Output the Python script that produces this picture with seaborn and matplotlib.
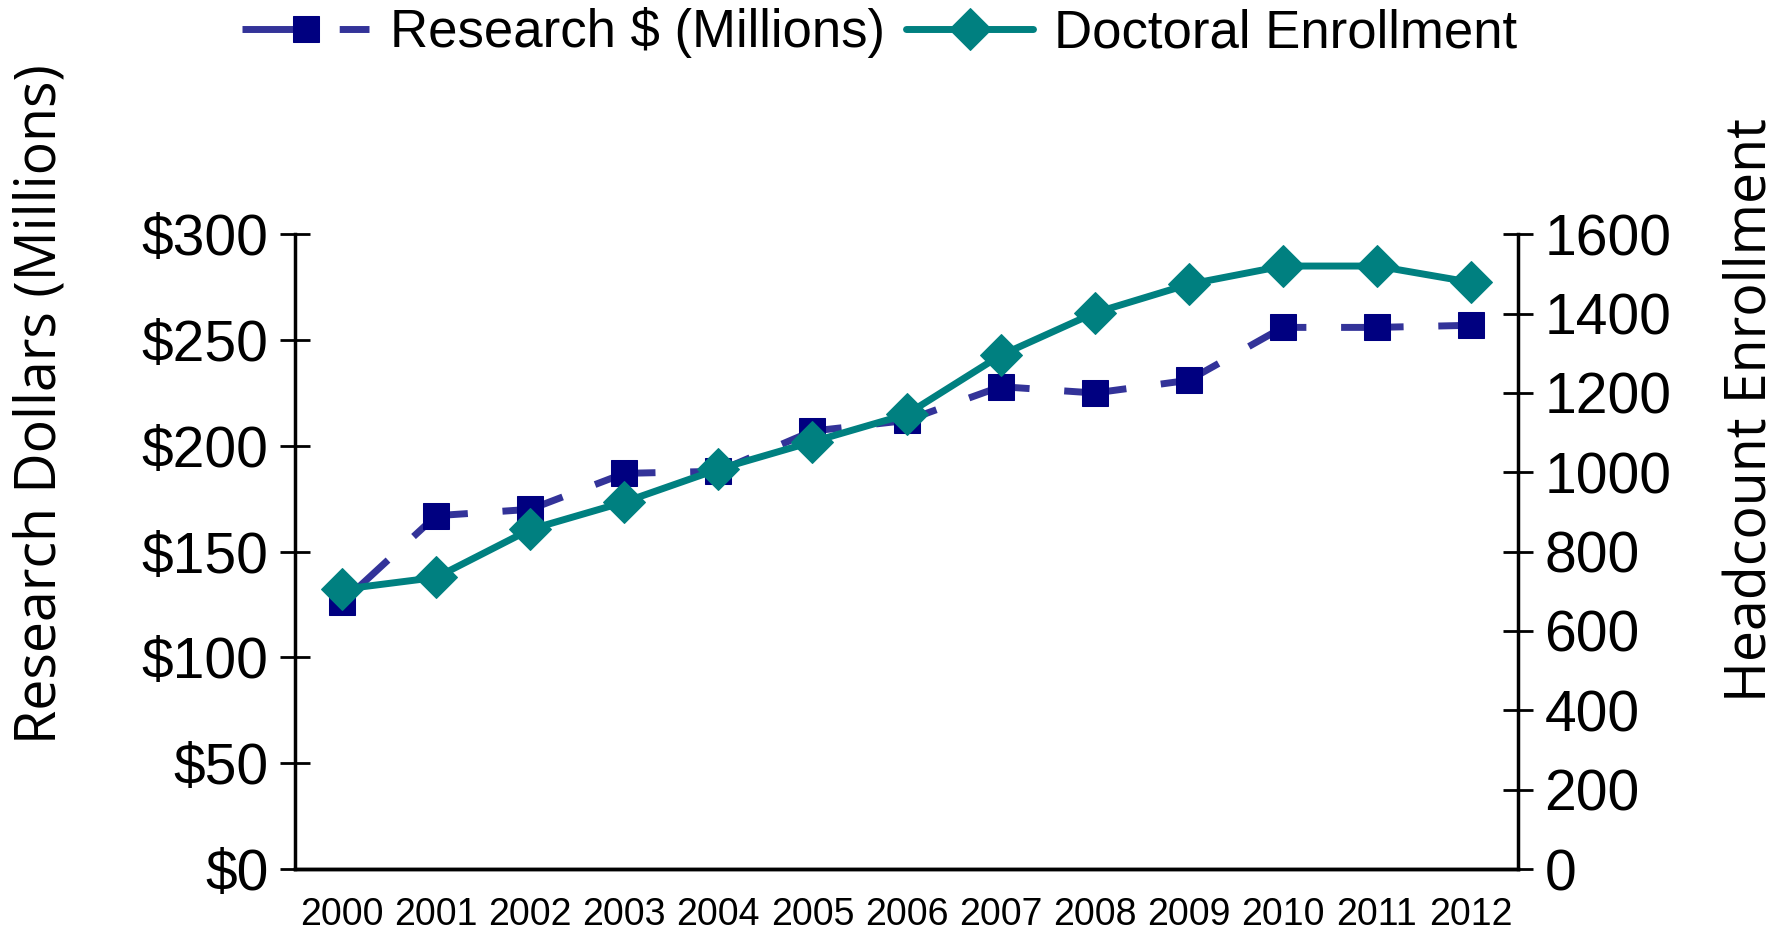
import numpy as np
import pandas as pd
import matplotlib
matplotlib.use("Agg")
import matplotlib.pyplot as plt
import seaborn as sns

years = ["2000", "2001", "2002", "2003", "2004", "2005", "2006",
         "2007", "2008", "2009", "2010", "2011", "2012"]
research = [126, 167, 170, 187, 188, 207, 212, 228, 225, 231, 256, 256, 257]
enrollment = [705, 735, 856, 925, 1008, 1077, 1146, 1295, 1402, 1474, 1520, 1520, 1479]

dollar_ticks = [0, 50, 100, 150, 200, 250, 300]
head_ticks = [0, 200, 400, 600, 800, 1000, 1200, 1400, 1600]

sns.set_theme(style="white")
plt.rcParams['font.family'] = ['Liberation Sans', 'DejaVu Sans']
plt.rcParams['text.color'] = 'black'
plt.rcParams['xtick.color'] = 'black'
plt.rcParams['ytick.color'] = 'black'
plt.rcParams['axes.labelcolor'] = 'black'

df = pd.DataFrame({"pos": np.arange(len(years)), "Year": years,
                   "Research": research, "Enrollment": enrollment})

fig = plt.figure(figsize=(17.88, 9.41), dpi=100)
ax = fig.add_axes([0.165, 0.0765, 0.684, 0.6745])
ax2 = ax.twinx()

sns.lineplot(data=df, x="pos", y="Research", ax=ax, color="#333399", lw=5,
             dashes=False, marker="s", markersize=19, markerfacecolor="#000080",
             markeredgecolor="#000080", label="Research $ (Millions)", legend=False)
ax.lines[0].set_dashes([9, 5])
sns.lineplot(data=df, x="pos", y="Enrollment", ax=ax2, color="#008080", lw=5,
             marker="D", markersize=21, markerfacecolor="#008080",
             markeredgecolor="#008080", label="Doctoral Enrollment", legend=False)

n = len(years)
for a in (ax, ax2):
    a.set_xlim(-0.5, n - 0.5)
    a.set_xticks(np.arange(n + 1) - 0.5)
    a.set_xticklabels([])
    a.set_xticks(np.arange(n), minor=True)
    a.grid(False)
ax.set_xticklabels(years, minor=True, fontsize=27)
ax.tick_params(axis="x", which="minor", length=0, pad=20)
ax.tick_params(axis="x", which="major", direction="inout", length=22, width=1.5)

ax.set_ylim(0, 300)
ax.set_yticks(dollar_ticks)
ax.set_yticklabels([f"${v}" for v in dollar_ticks], fontsize=41)
ax.tick_params(axis="y", direction="inout", length=22, width=2, left=True, pad=8)

ax2.set_ylim(0, 1600)
ax2.set_yticks(head_ticks)
ax2.set_yticklabels([str(v) for v in head_ticks], fontsize=41)
ax2.tick_params(axis="y", direction="inout", length=22, width=2, right=True, pad=8)

for a in (ax, ax2):
    a.spines["top"].set_visible(False)
    for s in ("left", "right", "bottom"):
        a.spines[s].set_color("black")
        a.spines[s].set_linewidth(2.5)
ax.spines["right"].set_visible(False)
ax2.spines["left"].set_visible(False)

ax.set_xlabel("")
ax.set_ylabel("Research Dollars (Millions)", fontsize=40, family=["Open Sans", "DejaVu Sans"])
ax2.set_ylabel("Headcount Enrollment", fontsize=40, family=["Open Sans", "DejaVu Sans"])
ax.yaxis.set_label_coords(-0.184, 0.733)
ax2.yaxis.set_label_coords(1.168, 0.723)

handles = ax.lines[:1] + ax2.lines[:1]
fig.legend(handles, ["Research $ (Millions)", "Doctoral Enrollment"], loc="center",
           bbox_to_anchor=(0.492, 0.965), ncol=2, frameon=False, fontsize=38,
           handlelength=2.4, columnspacing=0.4, handletextpad=0.4)

fig.savefig("out.png", dpi=100)
